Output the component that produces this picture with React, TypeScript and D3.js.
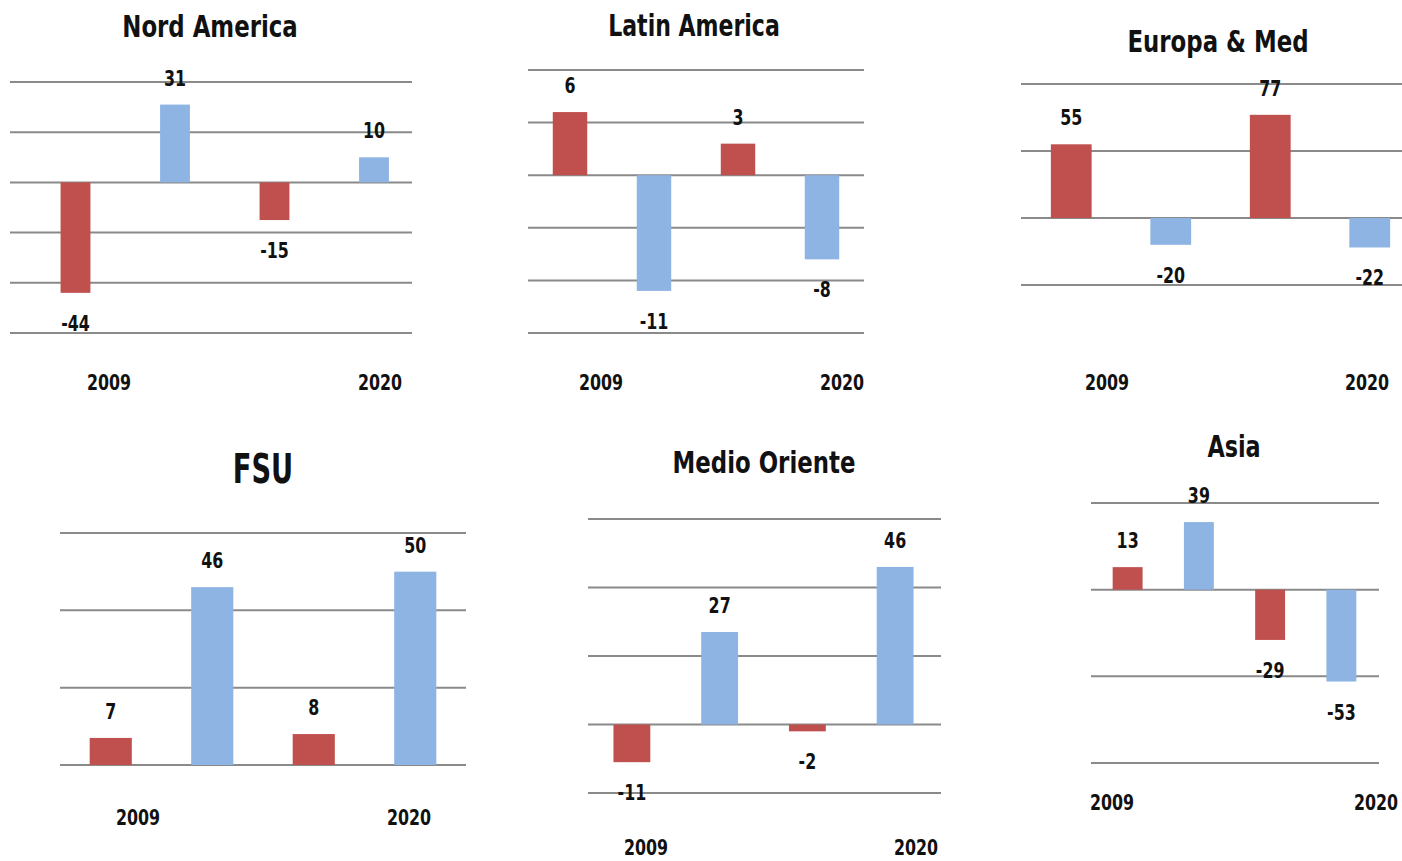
import React from "react";
import * as d3 from "d3";

// ---- data ----
const regionTitles = ["Nord America", "Latin America", "Europa & Med", "FSU", "Medio Oriente", "Asia"];
const barKeys = ["a", "b", "c", "d"];
const yearLabels = ["2009", "2020"];
const nordAmerica = [-44, 31, -15, 10];
const latinAmerica = [6, -11, 3, -8];
const europaMed = [55, -20, 77, -22];
const fsu = [7, 46, 8, 50];
const medioOriente = [-11, 27, -2, 46];
const asia = [13, 39, -29, -53];
const regionValues = [nordAmerica, latinAmerica, europaMed, fsu, medioOriente, asia];
const yDomains: [number, number][] = [[-60, 40], [-15, 10], [-50, 100], [0, 60], [-20, 60], [-100, 50]];
const yTickSteps = [20, 5, 50, 20, 20, 50];

// ---- layout & style ----
const RED = "#C0504D";
const BLUE = "#8EB4E3";
const GRID = "#8a8a8a";
const FONT = "'Liberation Sans Narrow', 'DejaVu Sans Condensed', 'Roboto', sans-serif";
const NUM_SCALE = 0.8;

const layouts = [
  { grid: [10, 412], band: [25.75, 423.75], pad: 0.7, yPx: [333, 82], title: { x: 210, y: 37, size: 31, sx: 0.82 }, yearX: [109, 380], yearY: 390 },
  { grid: [528, 864], band: [528, 864], pad: 0.59, yPx: [333, 70], title: { x: 694, y: 36, size: 31, sx: 0.79 }, yearX: [601, 842], yearY: 390 },
  { grid: [1021, 1402], band: [1021.5, 1419.5], pad: 0.59, yPx: [285, 84], title: { x: 1218, y: 52, size: 31, sx: 0.82 }, yearX: [1107, 1367], yearY: 390 },
  { grid: [60, 466], band: [60, 466], pad: 0.585, yPx: [765, 533], title: { x: 263, y: 483, size: 41, sx: 0.74 }, yearX: [138, 409], yearY: 825 },
  { grid: [588, 941], band: [588, 939], pad: 0.58, yPx: [793, 519], title: { x: 764, y: 473, size: 31, sx: 0.82 }, yearX: [646, 916], yearY: 855 },
  { grid: [1091, 1379], band: [1092, 1377], pad: 0.58, yPx: [763, 503], title: { x: 1234, y: 457, size: 31, sx: 0.8 }, yearX: [1112, 1376], yearY: 810 },
];

function Label({ x, y, size, sx, children }: { x: number; y: number; size: number; sx: number; children: React.ReactNode }) {
  return (
    <text
      transform={`translate(${x},${y}) scale(${sx},1)`}
      textAnchor="middle"
      fontSize={size}
      fontWeight="bold"
      fill="#111"
      fontFamily={FONT}
    >
      {children}
    </text>
  );
}

function Panel({ idx }: { idx: number }) {
  const L = layouts[idx];
  const values = regionValues[idx];
  const [lo, hi] = yDomains[idx];
  const y = d3.scaleLinear().domain([lo, hi]).range(L.yPx as [number, number]);
  const x = d3.scaleBand<string>().domain(barKeys).range(L.band as [number, number]).paddingInner(L.pad).paddingOuter(L.pad / 2);
  const ticks = d3.range(lo, hi + yTickSteps[idx] / 2, yTickSteps[idx]);
  return (
    <g>
      {ticks.map((t) => (
        <line key={t} x1={L.grid[0]} x2={L.grid[1]} y1={y(t)} y2={y(t)} stroke={GRID} strokeWidth={2} />
      ))}
      {values.map((v, i) => {
        const k = barKeys[i];
        const y0 = y(0);
        const yv = y(v);
        return (
          <rect key={k} x={x(k)} width={x.bandwidth()} y={Math.min(y0, yv)} height={Math.abs(yv - y0)} fill={i % 2 === 0 ? RED : BLUE} />
        );
      })}
      {values.map((v, i) => {
        const k = barKeys[i];
        const cx = (x(k) as number) + x.bandwidth() / 2;
        const ty = v >= 0 ? y(v) - 27 + 8 : y(v) + 30 + 8;
        return (
          <Label key={"l" + k} x={cx} y={ty} size={22} sx={NUM_SCALE}>
            {v}
          </Label>
        );
      })}
      <Label x={L.title.x} y={L.title.y} size={L.title.size} sx={L.title.sx}>
        {regionTitles[idx]}
      </Label>
      {yearLabels.map((yr, j) => (
        <Label key={yr} x={L.yearX[j]} y={L.yearY} size={22} sx={NUM_SCALE}>
          {yr}
        </Label>
      ))}
    </g>
  );
}

export default function App() {
  return (
    <svg width={1402} height={861} style={{ position: "absolute", left: 0, top: 0, background: "#fff" }}>
      <rect width={1402} height={861} fill="#fff" />
      {regionTitles.map((_, i) => (
        <Panel key={i} idx={i} />
      ))}
    </svg>
  );
}
